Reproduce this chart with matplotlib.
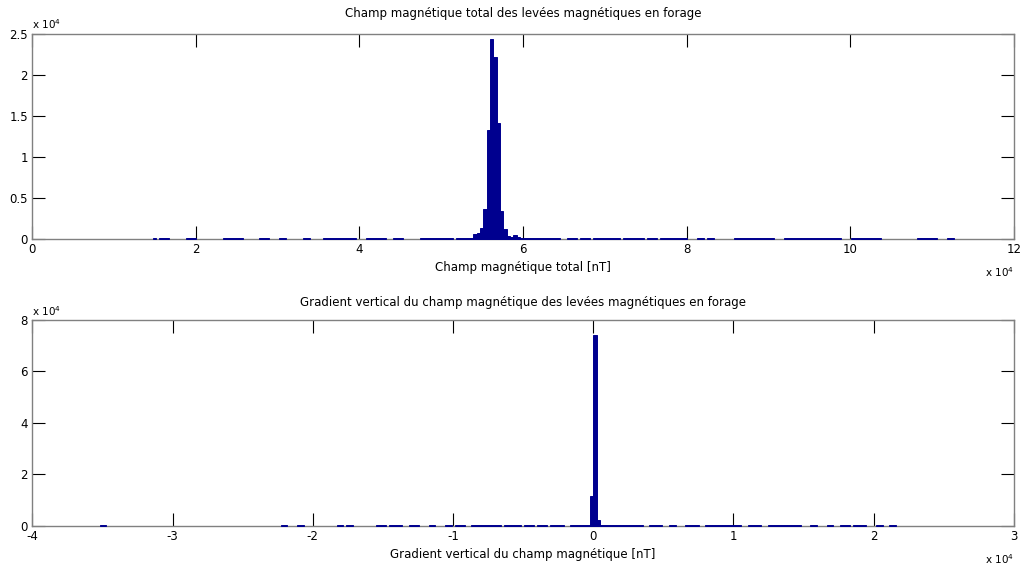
import numpy as np
import matplotlib
matplotlib.use("Agg")
import matplotlib.pyplot as plt
from matplotlib.ticker import FuncFormatter, MultipleLocator

plt.rcParams['font.family'] = ['DejaVu Sans']

# ---------------- Data ----------------
# Top histogram: total magnetic field [nT]
tf_start = 14700.0      # first bin edge
tf_width = 408.3        # bin width
tf_nbins = 240
# main peak: bin index -> count
tf_peak_bins = [95, 96, 97, 98, 99, 100, 101, 102, 103, 104, 105, 106, 107, 108, 109, 110]
tf_peak_counts = [100, 570, 730, 1340, 3620, 13250, 24350, 22190, 14050, 3410, 1140, 330, 160, 400, 240, 60]
# ranges (x 1e4 nT) holding sparse low-count bins
tf_low_ranges = [(1.48, 1.50), (1.58, 1.64), (1.89, 1.97), (2.33, 2.46), (2.48, 2.56),
                 (2.81, 2.87), (3.05, 3.09), (3.31, 3.35), (3.56, 3.72), (3.74, 3.93),
                 (4.09, 4.13), (4.18, 4.22), (4.28, 4.32), (4.42, 4.47), (4.49, 4.53),
                 (4.75, 4.99), (5.03, 5.11), (5.21, 5.38), (5.90, 6.00), (6.03, 6.42),
                 (6.54, 6.62), (6.70, 6.78), (6.86, 6.99), (7.03, 7.15), (7.23, 7.31),
                 (7.35, 7.44), (7.52, 7.60), (7.68, 7.97), (8.13, 8.17), (8.25, 8.32),
                 (8.58, 8.74), (8.78, 9.03), (9.21, 9.27), (9.31, 9.37), (9.43, 9.85),
                 (10.02, 10.21), (10.25, 10.36), (10.86, 10.95), (10.99, 11.03), (11.22, 11.27)]
tf_low_count = 50

# Bottom histogram: vertical gradient [nT]
vg_start = -35200.0
vg_width = 234.67
vg_nbins = 242
vg_peak_bins = [148, 149, 150, 151, 152]
vg_peak_counts = [300, 11700, 74200, 2200, 150]
vg_low_ranges = [(-3.517, -3.494), (-2.211, -2.187), (-2.104, -2.073), (-1.819, -1.795),
                 (-1.748, -1.724), (-1.536, -1.494), (-1.436, -1.379), (-1.293, -1.265),
                 (-1.165, -1.135), (-1.051, -1.022), (-0.966, -0.937), (-0.866, -0.667),
                 (-0.631, -0.524), (-0.474, -0.431), (-0.381, -0.345), (-0.288, -0.224),
                 (-0.146, -0.034), (0.046, 0.331), (0.417, 0.474), (0.545, 0.581),
                 (0.674, 0.745), (0.809, 1.044), (1.116, 1.187), (1.258, 1.472),
                 (1.555, 1.591), (1.672, 1.700), (1.779, 1.815), (1.876, 1.935),
                 (2.028, 2.064), (2.125, 2.148)]
vg_low_count = 150

titles = ["Champ magnétique total des levées magnétiques en forage",
          "Gradient vertical du champ magnétique des levées magnétiques en forage"]
xlabels = ["Champ magnétique total [nT]", "Gradient vertical du champ magnétique [nT]"]
title_pads = [12, 10]


def build_counts(start, width, nbins, peak_bins, peak_counts, low_ranges, low_count):
    counts = np.zeros(nbins)
    left = start + np.arange(nbins) * width
    right = left + width
    for a, b in low_ranges:
        a, b = a * 1e4, b * 1e4
        mask = (right > a) & (left < b)
        counts[mask] = np.maximum(counts[mask], low_count)
    for i, c in zip(peak_bins, peak_counts):
        counts[i] = c
    centers = left + width / 2
    return centers, counts


BAR = '#00008F'
fig = plt.figure(figsize=(10.21, 5.68), dpi=100)
ax1 = fig.add_axes([0.0316, 0.580, 0.9615, 0.361])
ax2 = fig.add_axes([0.0316, 0.0745, 0.9615, 0.362])

fmt = FuncFormatter(lambda v, p: ('%g' % round(v / 1e4, 4)))

configs = [
    (ax1, build_counts(tf_start, tf_width, tf_nbins, tf_peak_bins, tf_peak_counts, tf_low_ranges, tf_low_count),
     tf_width, (0, 120000), 20000, (0, 25000), 5000),
    (ax2, build_counts(vg_start, vg_width, vg_nbins, vg_peak_bins, vg_peak_counts, vg_low_ranges, vg_low_count),
     vg_width, (-40000, 30000), 10000, (0, 80000), 20000),
]

for k, (ax, (centers, counts), w, xl, xs, yl, ys) in enumerate(configs):
    m = counts > 0
    ax.bar(centers[m], counts[m], width=w, color=BAR, edgecolor=BAR, linewidth=0.7,
           zorder=3, clip_on=False)
    ax.set_xlim(*xl)
    ax.set_ylim(*yl)
    ax.xaxis.set_major_locator(MultipleLocator(xs))
    ax.yaxis.set_major_locator(MultipleLocator(ys))
    ax.xaxis.set_major_formatter(fmt)
    ax.yaxis.set_major_formatter(fmt)
    ax.tick_params(direction='in', length=9.5, width=0.8, top=True, right=True,
                   labelsize=8.5, pad=3, colors='black')
    for s in ax.spines.values():
        s.set_color('#808080')
        s.set_linewidth(1.0)
    ax.set_title(titles[k], fontsize=8.5, pad=title_pads[k])
    ax.set_xlabel(xlabels[k], fontsize=8.5, labelpad=4)
    ax.text(0.0, 1.012, r'x 10$^{4}$', transform=ax.transAxes, fontsize=7.5,
            ha='left', va='bottom')
    ax.text(1.0, -0.13, r'x 10$^{4}$', transform=ax.transAxes, fontsize=7.5,
            ha='right', va='top')

fig.savefig('out.png', dpi=100)
